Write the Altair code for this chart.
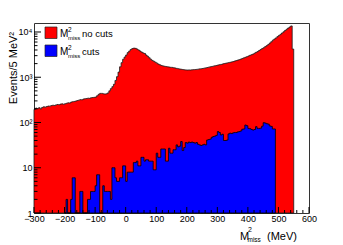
import altair as alt
import pandas as pd

# ---------------- data ----------------
bin_width = 5

red_start = -300
red_counts = [
    195, 208, 203, 212, 200, 215, 222, 218, 226, 231,
    230, 236, 241, 238, 245, 250, 247, 255, 258, 253,
    260, 266, 272, 270, 283, 288, 292, 298, 305, 312,
    320, 318, 330, 335, 338, 345, 342, 352, 356, 360,
    365, 390, 420, 440, 440, 430, 425, 430, 450, 500,
    560, 620, 700, 850, 1030, 1300, 1700, 2100, 2500, 2800,
    3100, 3500, 3800, 4100, 4300, 4400, 4350, 4200, 4000, 3800,
    3600, 3450, 3350, 3100, 2900, 2700, 2500, 2350, 2250, 2150,
    2050, 1950, 1880, 1820, 1780, 1750, 1720, 1700, 1680, 1660,
    1650, 1620, 1600, 1570, 1540, 1520, 1500, 1480, 1460, 1450,
    1440, 1450, 1440, 1460, 1470, 1480, 1490, 1510, 1530, 1540,
    1560, 1590, 1610, 1640, 1670, 1700, 1730, 1760, 1790, 1820,
    1860, 1890, 1920, 1960, 2000, 2030, 2070, 2100, 2140, 2180,
    2220, 2280, 2330, 2390, 2450, 2520, 2600, 2680, 2760, 2850,
    2950, 3050, 3150, 3250, 3400, 3550, 3700, 3900, 4100, 4300,
    4500, 4750, 5000, 5300, 5700, 6100, 6600, 7000, 7400, 7900,
    8400, 8900, 9500, 10100, 10800, 11500, 12200, 12900, 13600, 4200,
]

blue_start = -200
blue_counts = [
    0, 2, 0, 0, 2, 6, 6, 0, 0, 0,
    3, 3, 0, 0, 0, 2, 2, 3, 3, 3,
    4, 7, 7, 0, 0, 4, 3, 3, 3, 3,
    2, 10, 10, 6, 5, 5, 6, 6, 11, 11,
    5, 8, 8, 8, 8, 13, 13, 14, 11, 11,
    17, 17, 14, 15, 15, 14, 14, 14, 9, 9,
    21, 17, 17, 26, 26, 26, 14, 14, 27, 21,
    21, 25, 25, 32, 29, 30, 38, 24, 28, 36,
    35, 37, 36, 37, 36, 35, 36, 33, 32, 31,
    32, 33, 32, 41, 42, 43, 47, 49, 50, 52,
    63, 60, 53, 55, 40, 40, 41, 56, 58, 57,
    59, 60, 60, 62, 63, 65, 71, 72, 88, 85,
    74, 73, 70, 68, 70, 81, 74, 74, 75, 83,
    99, 97, 94, 92, 84, 82, 72, 72,
]

x_major_ticks = [-300, -200, -100, 0, 100, 200, 300, 400, 500, 600]
x_minor_ticks = [v for v in range(-300, 601, 20) if v % 100 != 0]
y_major_ticks = [1, 10, 100, 1000, 10000]
y_labels = ["1", "10", "10\u00b2", "10\u00b3", "10\u2074"]
y_minor_ticks = [m * 10 ** k for k in range(0, 5) for m in range(2, 10) if m * 10 ** k <= 15800]

x_domain = [-300, 600]
y_domain = [1, 15800]

W, H = 275, 190
FONT = "Liberation Sans"


def hist_frame(start, counts):
    edges = [start + i * bin_width for i in range(len(counts) + 1)]
    shown = [max(c, 1) for c in counts]
    shown = shown + [shown[-1]]
    return pd.DataFrame({"x": edges, "y": shown})


red_df = hist_frame(red_start, red_counts)
blue_df = hist_frame(blue_start, blue_counts)

xs = alt.Scale(domain=x_domain, nice=False, zero=False)
ys = alt.Scale(type="log", domain=y_domain, nice=False)

label_expr = " : ".join(
    f"datum.value == {v} ? '{lab}'" for v, lab in zip(y_major_ticks, y_labels)
) + " : ''"

x_axis = alt.Axis(values=x_major_ticks, ticks=False, tickSize=0, domain=False, grid=False,
                  labelFontSize=9, labelFont=FONT, labelColor="#000", labelPadding=1,
                  labelFlush=False, labelOverlap=False)
y_axis = alt.Axis(values=y_major_ticks, ticks=False, tickSize=0, domain=False, grid=False,
                  labelFontSize=9, labelFont=FONT, labelColor="#000", labelPadding=2,
                  labelExpr=label_expr, labelOverlap=False)

red = alt.Chart(red_df).mark_area(
    interpolate="step-after", fill="#ff0000", stroke="#1a1a1a", strokeWidth=0.8
).encode(
    x=alt.X("x:Q", scale=xs, axis=x_axis, title=None),
    y=alt.Y("y:Q", scale=ys, axis=y_axis, title=None),
    y2=alt.datum(1),
)

blue = alt.Chart(blue_df).mark_area(
    interpolate="step-after", fill="#0000ff", stroke="#000000", strokeWidth=0.8
).encode(
    x=alt.X("x:Q", scale=xs, axis=x_axis, title=None),
    y=alt.Y("y:Q", scale=ys, axis=y_axis, title=None),
    y2=alt.datum(1),
)

xt_major = alt.Chart(pd.DataFrame({"x": x_major_ticks})).mark_rule(color="#000", strokeWidth=1).encode(
    x=alt.X("x:Q", scale=xs, axis=x_axis, title=None), y=alt.value(H), y2=alt.value(H - 6))
xt_minor = alt.Chart(pd.DataFrame({"x": x_minor_ticks})).mark_rule(color="#000", strokeWidth=1).encode(
    x=alt.X("x:Q", scale=xs, axis=x_axis, title=None), y=alt.value(H), y2=alt.value(H - 3))
yt_major = alt.Chart(pd.DataFrame({"y": y_major_ticks})).mark_rule(color="#000", strokeWidth=1).encode(
    y=alt.Y("y:Q", scale=ys, axis=y_axis, title=None), x=alt.value(0), x2=alt.value(7))
yt_minor = alt.Chart(pd.DataFrame({"y": y_minor_ticks})).mark_rule(color="#000", strokeWidth=1).encode(
    y=alt.Y("y:Q", scale=ys, axis=y_axis, title=None), x=alt.value(0), x2=alt.value(3.5))

one = pd.DataFrame({"k": [0]})


def txt(s, x, y, size, align="left", angle=0, baseline="alphabetic"):
    m = alt.Chart(one).mark_text(text=s, font=FONT, fontSize=size, color="#000",
                                 align=align, baseline=baseline, angle=angle)
    return m.encode(x=alt.value(x), y=alt.value(y))


def box(color, y0):
    return alt.Chart(one).mark_rect(fill=color, stroke="#222", strokeWidth=0.7).encode(
        x=alt.value(11), x2=alt.value(23), y=alt.value(y0), y2=alt.value(y0 + 11.5))


legend_labels = ["no cuts", "cuts"]
legend_colors = ["#ff0000", "#0000ff"]
legend_layers = []
for i, (lab, col) in enumerate(zip(legend_labels, legend_colors)):
    dy = 18 * i
    legend_layers += [
        box(col, 4 + dy),
        txt("M", 26, 14.3 + dy, 10),
        txt("2", 34, 9.4 + dy, 6.5),
        txt("miss", 34, 17.3 + dy, 6),
        txt(lab, 48, 13.8 + dy, 9.5),
    ]

title_layers = [
    txt("Events/5 MeV\u00b2", -20, 9, 11, align="right", angle=270, baseline="middle"),
    txt("M", 206, 216.5, 11),
    txt("2", 214, 209.3, 7),
    txt("miss", 213.5, 218.6, 6.5),
    txt("(MeV)", 233, 216.5, 11),
]

chart = alt.layer(
    red, blue, xt_major, xt_minor, yt_major, yt_minor, *legend_layers, *title_layers
).properties(
    width=W, height=H,
    autosize=alt.AutoSizeParams(type="none"),
    padding={"left": 26, "top": 15, "right": 26, "bottom": 30},
).configure_view(
    stroke="#333", strokeWidth=1
).configure_axis(
    labelOverlap=False, labelFlush=False
)

chart.save("out.html", embed_options={"renderer": "svg", "actions": False})
